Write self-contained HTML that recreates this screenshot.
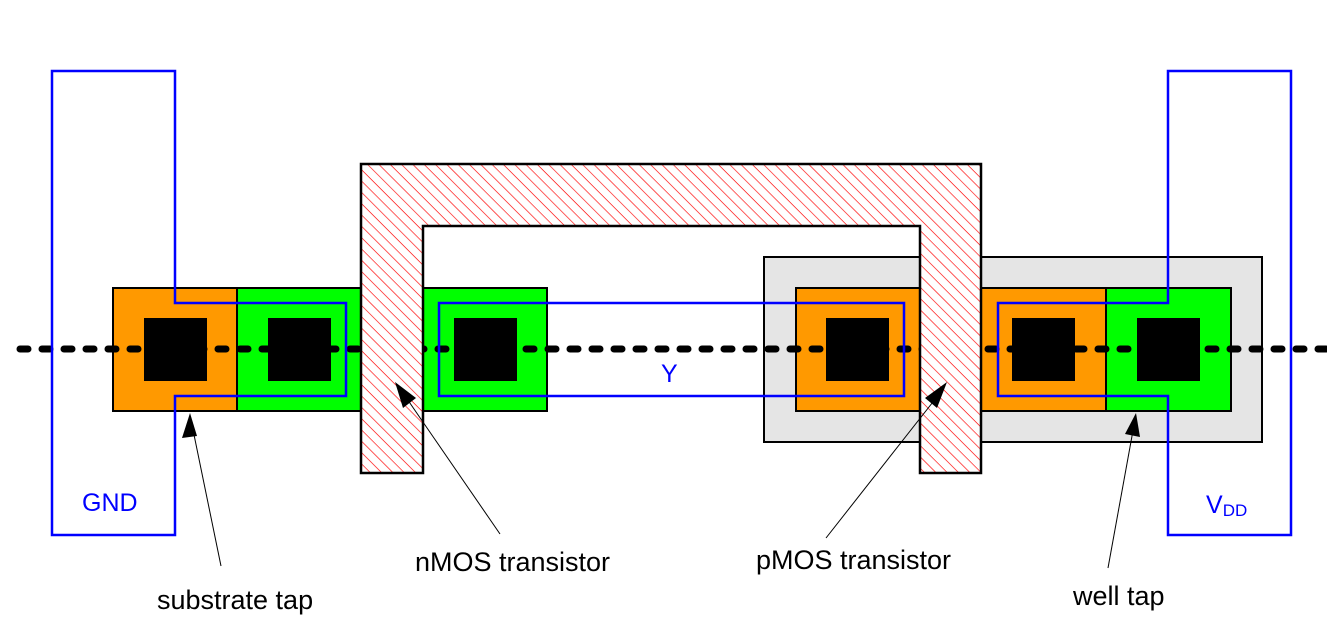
<!DOCTYPE html>
<html><head><meta charset="utf-8"><style>html,body{margin:0;padding:0;background:#fff}svg{display:block}</style></head>
<body>
<svg width="1327" height="640" viewBox="0 0 1327 640" xmlns="http://www.w3.org/2000/svg" font-family="Liberation Sans, Arial, sans-serif">
<defs>
<pattern id="h" width="8" height="8" patternUnits="userSpaceOnUse" patternTransform="rotate(45)">
<rect width="8" height="8" fill="#fff"/>
<line x1="0" y1="0" x2="8" y2="0" stroke="#f00" stroke-width="1.3"/>
</pattern>
</defs>
<rect x="764" y="257" width="498" height="185" fill="#e5e5e5" stroke="#000" stroke-width="2"/>
<rect x="113" y="288" width="124" height="123" fill="#f90" stroke="#000" stroke-width="2"/>
<rect x="237" y="288" width="124" height="123" fill="#0f0" stroke="#000" stroke-width="2"/>
<rect x="423" y="288" width="124" height="123" fill="#0f0" stroke="#000" stroke-width="2"/>
<rect x="796" y="288" width="124" height="123" fill="#f90" stroke="#000" stroke-width="2"/>
<rect x="981" y="288" width="125" height="123" fill="#f90" stroke="#000" stroke-width="2"/>
<rect x="1106" y="288" width="125" height="123" fill="#0f0" stroke="#000" stroke-width="2"/>
<g fill="#000">
<rect x="144" y="318" width="63" height="63"/>
<rect x="268" y="318" width="63" height="63"/>
<rect x="454" y="318" width="63" height="63"/>
<rect x="826" y="318" width="63" height="63"/>
<rect x="1012" y="318" width="63" height="63"/>
<rect x="1137" y="318" width="63" height="63"/>
</g>
<line x1="20" y1="349" x2="1327" y2="349" stroke="#000" stroke-width="7" stroke-linecap="round" stroke-dasharray="8 14"/>
<path d="M361,164 H981 V473 H920 V226 H423 V473 H361 Z" fill="url(#h)" stroke="#000" stroke-width="2.5"/>
<g fill="none" stroke="#00f" stroke-width="2.5">
<path d="M52,71 H175 V303 H346 V396 H175 V535 H52 Z"/>
<rect x="439" y="303" width="465" height="93"/>
<path d="M1291,71 H1168 V303 H998 V396 H1168 V535 H1291 Z"/>
</g>
<g stroke="#000" stroke-width="1">
<line x1="221" y1="566" x2="192" y2="425"/>
<line x1="500" y1="534" x2="403" y2="393"/>
<line x1="826" y1="538" x2="940" y2="393"/>
<line x1="1108" y1="568" x2="1134" y2="425"/>
</g>
<g fill="#000">
<polygon points="190,413 182,438 197,436"/>
<polygon points="395,382 403,408 416,398"/>
<polygon points="947,382 925,398 937,408"/>
<polygon points="1136,413 1125,434 1140,437"/>
</g>
<g fill="#00f" font-size="25">
<text x="82" y="511">GND</text>
<text x="661" y="382">Y</text>
<text x="1206" y="513">V<tspan font-size="17" dy="3">DD</tspan></text>
</g>
<g fill="#000" font-size="27">
<text x="157" y="609">substrate tap</text>
<text x="415" y="571">nMOS transistor</text>
<text x="756" y="569">pMOS transistor</text>
<text x="1073" y="605">well tap</text>
</g>
</svg>
</body></html>
